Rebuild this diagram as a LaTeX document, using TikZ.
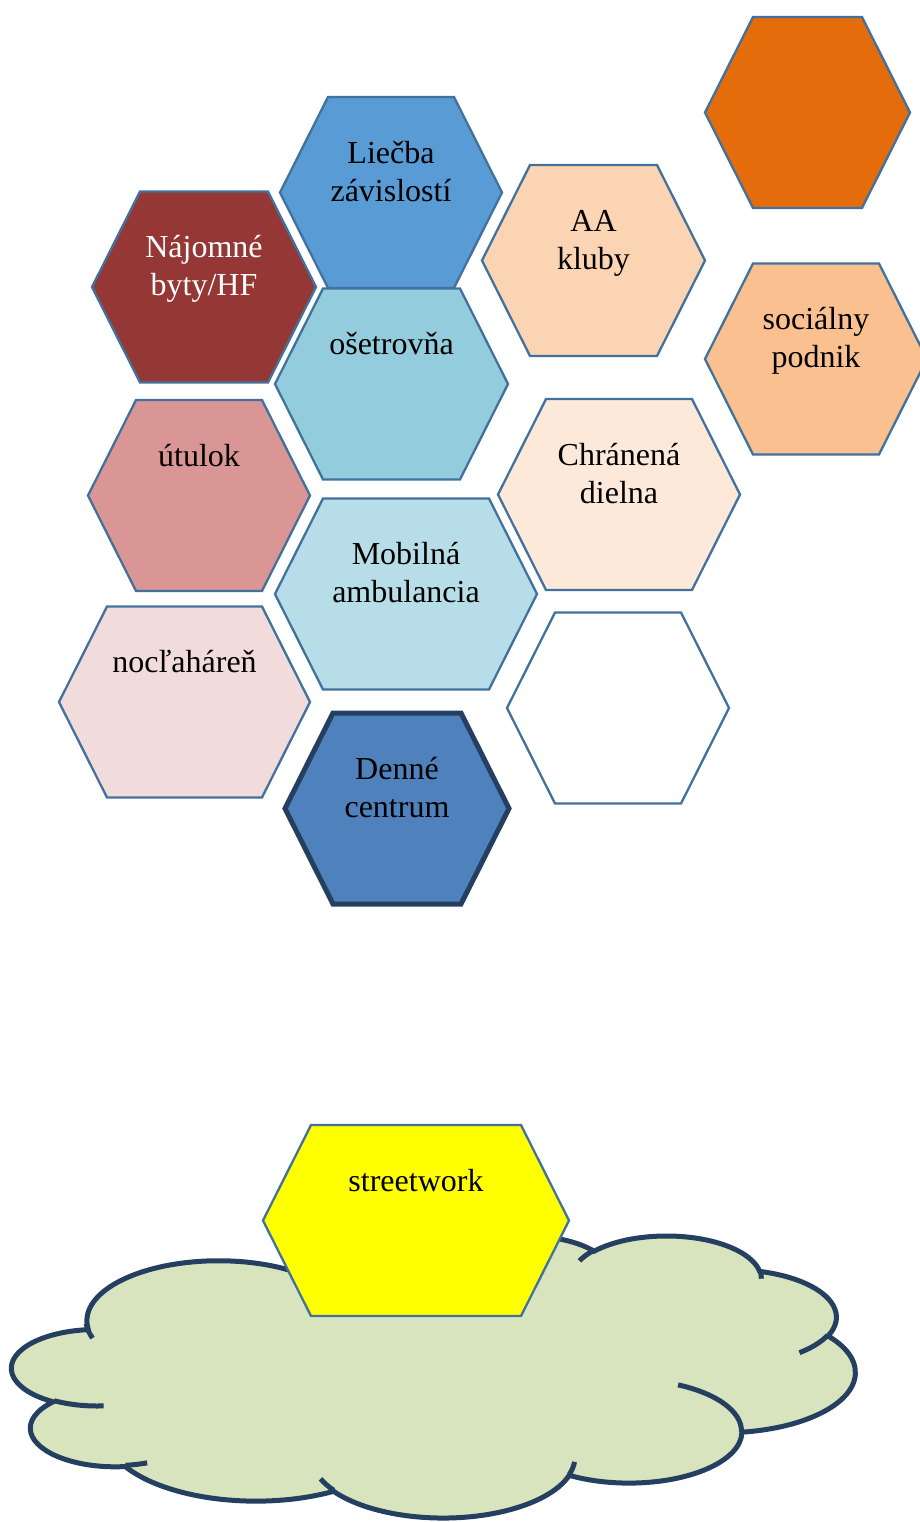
\documentclass[tikz,border=0pt]{standalone}
\usepackage{fontspec}
\setmainfont{Liberation Serif}
\usetikzlibrary{calc}

\definecolor{hexedge}{HTML}{41719C}
\definecolor{navy}{HTML}{243F60}
\definecolor{orangehex}{HTML}{E46C0A}
\definecolor{blueA}{HTML}{589BD5}
\definecolor{peachA}{HTML}{FBD4B4}
\definecolor{wine}{HTML}{953735}
\definecolor{peachB}{HTML}{FAC090}
\definecolor{aquaA}{HTML}{93CDDD}
\definecolor{roseA}{HTML}{D99694}
\definecolor{peachC}{HTML}{FDE9D9}
\definecolor{aquaB}{HTML}{B7DEE8}
\definecolor{roseB}{HTML}{F2DCDB}
\definecolor{blueB}{HTML}{4F81BD}
\definecolor{cloudfill}{HTML}{D7E4BD}
\definecolor{streetyellow}{HTML}{FFFF00}

\begin{document}
\begin{tikzpicture}[x=1pt, y=-1pt,
  hexline/.style={draw=hexedge, line width=2.3pt},
  hextext/.style={anchor=north, align=center, inner sep=0pt,
    font=\fontsize{32}{38}\selectfont},
  cloudline/.style={draw=navy, line width=5pt}]

  \useasboundingbox (0,0) rectangle (920,1522);

  %% name, centre x, centre y, half width, path style, node style, text
  \newcommand\hexa[7]{%
    \draw[hexline, #5] (#2-#4,#3) -- (#2-#4+48,#3-95.5) -- (#2+#4-48,#3-95.5)
      -- (#2+#4,#3) -- (#2+#4-48,#3+95.5) -- (#2-#4+48,#3+95.5) -- cycle;
    \node[hextext, #6] (#1) at (#2,#3-59.5) {\rule{0pt}{30pt}#7};
  }
  %% arc of the cloud: x radius, y radius, start angle, sweep
  \newcommand\cloudarc[4]{let \n1={atan2((#1)*sin(#3),(#2)*cos(#3))},
    \n2={mod(atan2((#1)*sin((#3)+(#4)),(#2)*cos((#3)+(#4)))-(\n1)+720,360)}
    in arc[start angle=\n1, delta angle=\n2, x radius=#1, y radius=#2]}

  \hexa{orange}{807.5}{112.5}{102.5}{fill=orangehex}{}{}
  \hexa{liecba}{391}{192.5}{111}{fill=blueA}{}{Liečba\\závislostí}
  \hexa{aa}{593.5}{260.5}{111.5}{fill=peachA}{}{AA\\kluby}
  \hexa{najomne}{204}{287}{112}{fill=wine}{text=white}{Nájomné\\byty/HF}
  \hexa{podnik}{816}{359}{111}{fill=peachB}{}{sociálny\\podnik}
  \hexa{osetrovna}{391.5}{384}{116.5}{fill=aquaA}{}{ošetrovňa}
  \hexa{utulok}{199}{495.5}{111}{fill=roseA}{}{útulok}
  \hexa{dielna}{619}{494.5}{121}{fill=peachC}{}{Chránená\\dielna}
  \hexa{mobilna}{406}{594}{131}{fill=aquaB}{}{Mobilná\\ambulancia}
  \hexa{nocleharen}{184.5}{702}{125.5}{fill=roseB}{}{nocľaháreň}
  \hexa{empty}{618}{708}{111}{fill=white}{}{}
  \hexa{denne}{397}{808.5}{112}{fill=blueB, draw=navy, line width=5pt}{}{Denné\\centrum}

  %% cloud
  \begin{scope}[shift={(12,1235)}, x=0.19514pt, y=-0.06528pt]
    \draw[cloudline, fill=cloudfill] (390,1437)
      \cloudarc{675.3}{919}{-190.4875}{123.7805}
      \cloudarc{533.3}{726.7}{-144.1024}{89.9452}
      \cloudarc{436.5}{594.5}{-145.8079}{99.7230}
      \cloudarc{485.7}{659.5}{-130.9861}{117.2417}
      \cloudarc{533.3}{727.3}{-78.7089}{109.0269}
      \cloudarc{677.5}{922}{-46.2673}{130.2690}
      \cloudarc{578.5}{786.7}{0.6250}{114.0333}
      \cloudarc{675.2}{921.5}{22.4516}{115.1726}
      \cloudarc{772}{1054.3}{66.2426}{75.7110}
      \cloudarc{436}{591.8}{-274.9421}{146.7356}
      \cloudarc{434.5}{594.5}{-246.8285}{152.5189} -- cycle;
    \draw[cloudline]
      (469.3,2617.7) \cloudarc{434.5}{594.5}{86.742}{26.4295}
      (692.8,3489.9) \cloudarc{436}{591.8}{73.6105}{11.4475}
      (1647.8,3909) \cloudarc{675.2}{921.5}{137.6242}{14.0811}
      (2882.7,3475.1) \cloudarc{675.2}{921.5}{6.4533}{15.9984}
      (3412.9,2295.4) \cloudarc{578.5}{786.7}{-70.2924}{70.9174}
      (4179.8,1535.4) \cloudarc{533.3}{727.3}{30.318}{27.7515}
      (3832.4,542.6) \cloudarc{485.7}{659.5}{-13.7443}{14.8589}
      (2907.8,395.2) \cloudarc{485.7}{659.5}{-149.1815}{18.1954}
      (2214.1,472) \cloudarc{436.5}{594.5}{-163.4943}{17.6864}
      (1400,519.2) \cloudarc{675.3}{919}{-66.707}{12.3194}
      (412.7,1578.9) \cloudarc{675.3}{919}{155.6472}{18.6468};
  \end{scope}

  \hexa{streetwork}{416}{1220.5}{153}{fill=streetyellow}{}{streetwork}

\end{tikzpicture}
\end{document}
